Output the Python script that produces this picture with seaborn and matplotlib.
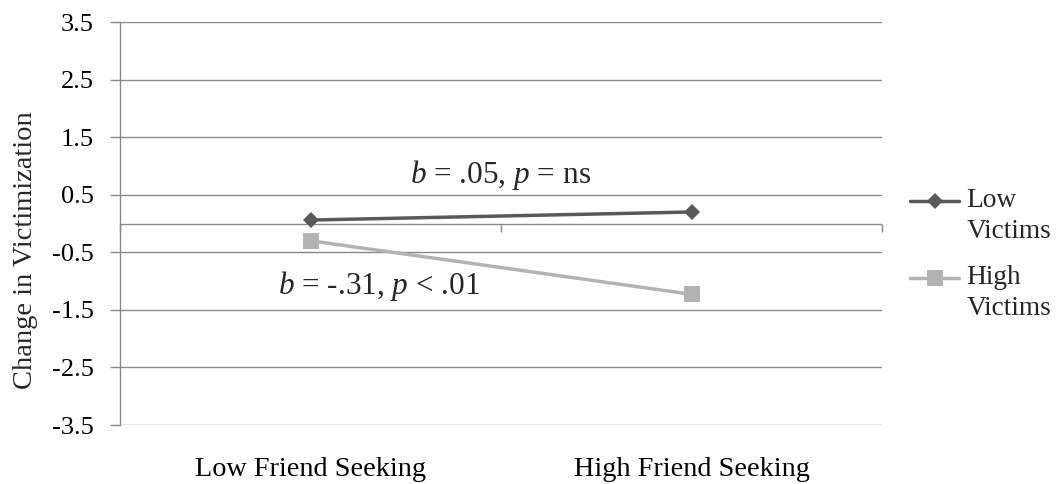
import numpy as np
import pandas as pd
import matplotlib
matplotlib.use("Agg")
import matplotlib.pyplot as plt
import seaborn as sns
from matplotlib.legend_handler import HandlerLine2D
from matplotlib.lines import Line2D

# ---- data ----
categories = ["Low Friend Seeking", "High Friend Seeking"]
series_names = ["Low\nVictims", "High\nVictims"]
low_victims = [0.06, 0.20]
high_victims = [-0.30, -1.23]
y_ticks = [-3.5, -2.5, -1.5, -0.5, 0.5, 1.5, 2.5, 3.5]
y_tick_labels = ["-3.5", "-2.5", "-1.5", "-0.5", "0.5", "1.5", "2.5", "3.5"]
annot_low = r"$b$ = .05, $p$ = ns"
annot_high = r"$b$ = -.31, $p$ < .01"
y_label = "Change in Victimization"

df = pd.DataFrame({
    "Seeking": categories * 2,
    "Group": [series_names[0]] * 2 + [series_names[1]] * 2,
    "Change": low_victims + high_victims,
})

sns.set_style("white")
plt.rcParams["font.family"] = ["Liberation Serif", "DejaVu Serif"]
plt.rcParams["mathtext.fontset"] = "custom"
plt.rcParams["mathtext.rm"] = "Liberation Serif"
plt.rcParams["mathtext.it"] = "Liberation Serif:italic"

W, H = 1057, 484
fig = plt.figure(figsize=(W / 100, H / 100), dpi=100)
ax = fig.add_axes([120 / W, 1 - 425 / H, (882 - 120) / W, (425 - 22) / H])

dark = "#595959"
light = "#B3B3B3"
grid_c = "#898989"

sns.lineplot(data=df, x="Seeking", y="Change", hue="Group", style="Group",
             palette={series_names[0]: dark, series_names[1]: light},
             markers={series_names[0]: "D", series_names[1]: "s"},
             dashes=False, sort=False, linewidth=2.5, markeredgewidth=0,
             ax=ax, legend=False, zorder=3)
lines = ax.lines[:2]
lines[0].set_markersize(8.5)
lines[1].set_markersize(11.5)

ax.set_xlim(-0.5, 1.5)
ax.set_ylim(-3.5, 3.5)
ax.set_yticks(y_ticks)
ax.set_yticklabels(y_tick_labels)
ax.yaxis.grid(True, color=grid_c, linewidth=1.0)
ax.xaxis.grid(False)
ax.set_axisbelow(True)

for s in ["top", "right", "bottom"]:
    ax.spines[s].set_visible(False)
ax.spines["left"].set_color(grid_c)
ax.spines["left"].set_linewidth(1.0)

ax.tick_params(axis="y", direction="out", length=7, width=1, color=grid_c,
               pad=12, labelsize=19, labelcolor="black", left=True)
ax.tick_params(axis="x", length=0, pad=23, labelsize=20.3, labelcolor="black")
ax.set_xlabel("")

# category axis crossing at y = 0
ax.axhline(0, color=grid_c, linewidth=1.0, zorder=1)
sec = ax.secondary_xaxis(0.5)
sec.xaxis.set_ticks_position("bottom")
sec.set_xticks([-0.5, 0.5, 1.5])
sec.set_xticklabels([])
sec.tick_params(axis="x", which="both", direction="out", length=6, width=1,
                color=grid_c, bottom=True, top=False)
for s in sec.spines.values():
    s.set_visible(False)

ax.set_ylabel(y_label, fontsize=20.5)
ax.yaxis.set_label_coords(-0.108, 0.434)

ax.text(0.5, 0.70, annot_low, ha="center", va="baseline", fontsize=22.5)
ax.text(0.18, -1.22, annot_high, ha="center", va="baseline", fontsize=22.5)


class TopHandler(HandlerLine2D):
    def __init__(self, shift, **kw):
        super().__init__(**kw)
        self.shift = shift

    def create_artists(self, legend, orig_handle, xdescent, ydescent,
                       width, height, fontsize, trans):
        return super().create_artists(legend, orig_handle, xdescent,
                                      ydescent - self.shift, width, height,
                                      fontsize, trans)


fs = 19.7
ls = 1.3
leg = fig.legend(lines, series_names, loc="center left",
                 bbox_to_anchor=(910 / W, 1 - 254.5 / H), frameon=False,
                 fontsize=fs, handlelength=1.8, handletextpad=0.26,
                 labelspacing=0.77, borderpad=0, borderaxespad=0,
                 handler_map={Line2D: TopHandler(shift=1.1 * fs)})
for t in leg.get_texts():
    t.set_linespacing(ls)

fig.savefig("out.png", dpi=100)
